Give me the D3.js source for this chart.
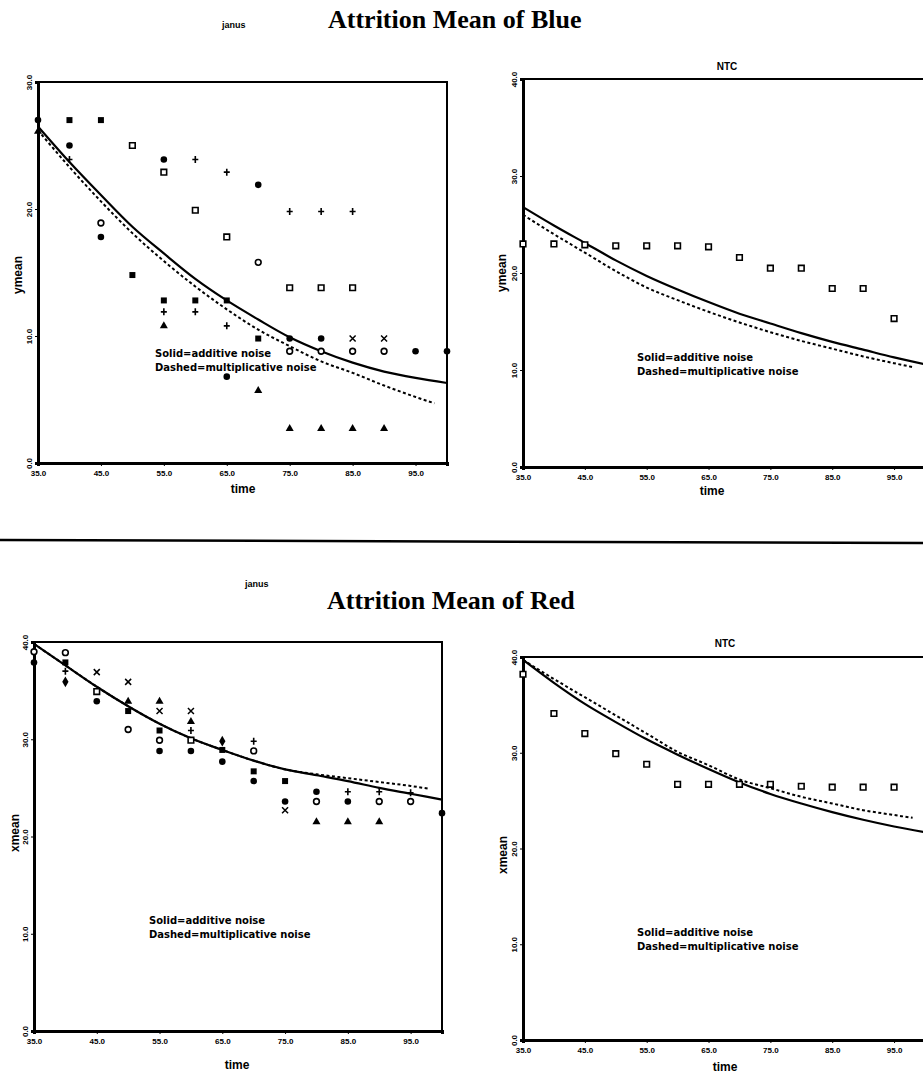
<!DOCTYPE html>
<html>
<head>
<meta charset="utf-8">
<script src="https://cdn.jsdelivr.net/npm/d3@7"></script>
<style>
    body { margin: 0; background: #fff; }
    svg { display: block; }
    .tick text { font-family: "Liberation Sans", sans-serif; font-weight: bold; font-size: 8px; }
    .axisTitle { font-family: "Liberation Sans", sans-serif; font-weight: bold; font-size: 12px; }
    .legend { font-family: "DejaVu Sans", sans-serif; font-weight: bold; font-size: 10px; }
    .ntc { font-family: "Liberation Sans", sans-serif; font-weight: bold; font-size: 10px; }
    .janus { font-family: "Liberation Sans", sans-serif; font-weight: bold; font-size: 9px; }
    .bigTitle { font-family: "Liberation Serif", serif; font-weight: bold; font-size: 26px; }
</style>
</head>
<body>
<script>
(function(){

    //time steps of the simulation output (every 5 units)
    var times = [35, 40, 45, 50, 55, 60, 65, 70, 75, 80, 85, 90, 95, 100];
    //dashed fits stop a little before the right edge
    var dashTimes = [35, 40, 45, 50, 55, 60, 65, 70, 75, 80, 85, 90, 95, 98];

    var xTicks = [35, 45, 55, 65, 75, 85, 95];
    var blueYTicks = [0, 10, 20, 30];
    var yTicks40 = [0, 10, 20, 30, 40];

    //janus blue replications, one array per plotting symbol
    var blueDot      = [27.0, 25.0, 17.8, null, 23.9, null, 6.8, 21.9, 9.8, 9.8, null, null, 8.8, 8.8];
    var blueSquare   = [null, 27.0, 27.0, 14.8, 12.8, 12.8, 12.8, 9.8, null, null, null, null, null, null];
    var blueOpenSq   = [null, null, null, 25.0, 22.9, 19.9, 17.8, null, 13.8, 13.8, 13.8, null, null, null];
    var blueCircle   = [null, null, 18.9, null, null, null, null, 15.8, 8.8, 8.8, 8.8, 8.8, null, null];
    var bluePlus     = [null, 23.9, null, null, 11.9, 23.9, 22.9, null, 19.8, 19.8, 19.8, null, null, null];
    var bluePlus2    = [null, null, null, null, null, 11.9, 10.8, null, null, null, null, null, null, null];
    var blueTriangle = [26.1, null, null, null, 10.8, null, null, 5.7, 2.7, 2.7, 2.7, 2.7, null, null];
    var blueX        = [null, null, null, null, null, null, null, null, null, null, 9.8, 9.8, null, null];

    //janus blue fitted curves
    var blueSolid  = [26.5, 23.7, 21.1, 18.6, 16.5, 14.5, 12.8, 11.3, 9.9, 8.8, 7.9, 7.2, 6.7, 6.3];
    var blueDashed = [26.2, 23.3, 20.6, 18.1, 15.9, 13.9, 12.1, 10.5, 9.2, 8.0, 7.1, 6.1, 5.2, 4.7];

    //NTC blue
    var ntcBlue       = [23.0, 23.0, 22.9, 22.8, 22.8, 22.8, 22.7, 21.6, 20.5, 20.5, 18.4, 18.4, 15.3, null];
    var ntcBlueSolid  = [26.8, 24.9, 23.1, 21.3, 19.7, 18.3, 17.0, 15.8, 14.8, 13.8, 12.9, 12.1, 11.3, 10.6];
    var ntcBlueDashed = [26.0, 24.0, 22.1, 20.2, 18.5, 17.2, 16.0, 14.9, 13.9, 13.0, 12.2, 11.4, 10.7, 10.3];

    //janus red replications
    var redDot      = [37.9, null, 33.9, null, 28.8, 28.8, 27.7, 25.7, 23.6, 24.6, 23.6, null, null, 22.4];
    var redDiamond  = [null, 35.9, null, null, null, null, 29.8, null, null, null, null, null, null, null];
    var redSquare   = [null, 37.9, null, 32.9, 30.9, null, 28.9, 26.7, 25.7, null, null, null, null, null];
    var redCircle   = [39.0, 38.9, null, 31.0, 29.9, null, null, 28.8, null, 23.6, null, 23.6, 23.6, null];
    var redOpenSq   = [null, null, 34.9, null, null, 29.9, null, null, null, null, null, null, null, null];
    var redPlus     = [null, 37.0, null, null, null, 30.9, null, 29.8, null, null, 24.6, 24.6, 24.5, null];
    var redX        = [null, null, 36.9, 35.9, 32.9, 32.9, null, null, 22.7, null, null, null, null, null];
    var redTriangle = [null, null, null, 33.9, 33.9, 31.8, null, null, null, 21.5, 21.5, 21.5, null, null];

    //janus red fitted curves
    var redSolid  = [39.8, 37.6, 35.4, 33.4, 31.6, 30.1, 28.9, 27.8, 26.9, 26.3, 25.7, 25.0, 24.4, 23.8];
    var redDashed = [39.8, 37.6, 35.4, 33.4, 31.6, 30.1, 28.9, 27.8, 26.9, 26.4, 26.0, 25.6, 25.2, 24.9];

    //NTC red
    var ntcRed       = [38.2, 34.1, 32.0, 29.9, 28.8, 26.7, 26.7, 26.7, 26.7, 26.5, 26.4, 26.4, 26.4, null];
    var ntcRedSolid  = [39.7, 37.3, 35.1, 33.2, 31.4, 29.8, 28.3, 26.9, 25.7, 24.7, 23.8, 23.0, 22.3, 21.7];
    var ntcRedDashed = [39.7, 37.7, 35.8, 33.9, 32.0, 30.1, 28.7, 27.2, 26.3, 25.4, 24.7, 24.0, 23.5, 23.2];

    var width = 923,
        height = 1076;

    var svg = d3.select("body")
        .append("svg")
        .attr("width", width)
        .attr("height", height);

    //page titles
    addTitle(svg, 222, 28, 328, 28, "Attrition Mean of Blue");
    addTitle(svg, 245, 587, 327, 609, "Attrition Mean of Red");

    //separator between the two pages
    svg.append("line")
        .attr("x1", 0).attr("x2", width)
        .attr("y1", 540).attr("y2", 543)
        .attr("stroke", "#000")
        .attr("stroke-width", 2.5);

    var panels = [
        {left: 38, right: 447, top: 82, bottom: 463, yMax: 30, yTicks: blueYTicks, yLabel: "ymean",
         yLabelPos: [18, 275], timePos: [243, 493], legend: [155, 357], ntc: null,
         solid: blueSolid, dashed: blueDashed,
         points: [[blueDot, "dot"], [blueSquare, "square"], [blueOpenSq, "openSquare"], [blueCircle, "circle"],
                  [bluePlus, "plus"], [bluePlus2, "plus"], [blueTriangle, "triangle"], [blueX, "x"]]},
        {left: 523, right: 925, top: 79, bottom: 467, yMax: 40, yTicks: yTicks40, yLabel: "ymean",
         yLabelPos: [502, 273], timePos: [712, 495], legend: [637, 361], ntc: [727, 70],
         solid: ntcBlueSolid, dashed: ntcBlueDashed,
         points: [[ntcBlue, "openSquare"]]},
        {left: 34, right: 442, top: 642, bottom: 1031, yMax: 40, yTicks: yTicks40, yLabel: "xmean",
         yLabelPos: [15, 833], timePos: [237, 1069], legend: [149, 924], ntc: null,
         solid: redSolid, dashed: redDashed,
         points: [[redDot, "dot"], [redDiamond, "diamond"], [redSquare, "square"], [redCircle, "circle"],
                  [redOpenSq, "openSquare"], [redPlus, "plus"], [redX, "x"], [redTriangle, "triangle"]]},
        {left: 523, right: 925, top: 657, bottom: 1040, yMax: 40, yTicks: yTicks40, yLabel: "xmean",
         yLabelPos: [503, 855], timePos: [725, 1071], legend: [637, 936], ntc: [725, 647],
         solid: ntcRedSolid, dashed: ntcRedDashed,
         points: [[ntcRed, "openSquare"]]}
    ];

    panels.forEach(function(p){
        drawPanel(svg, p);
    });

    function addTitle(svg, jx, jy, tx, ty, text){
        svg.append("text")
            .attr("class", "janus")
            .attr("x", jx)
            .attr("y", jy)
            .text("janus");
        svg.append("text")
            .attr("class", "bigTitle")
            .attr("x", tx)
            .attr("y", ty)
            .text(text);
    };

    function drawPanel(svg, p){
        var x = d3.scaleLinear()
            .domain([35, 100])
            .range([p.left, p.right]);

        var y = d3.scaleLinear()
            .domain([0, p.yMax])
            .range([p.bottom, p.top]);

        var g = svg.append("g");

        //frame
        g.append("rect")
            .attr("x", p.left)
            .attr("y", p.top)
            .attr("width", p.right - p.left)
            .attr("height", p.bottom - p.top)
            .attr("fill", "none")
            .attr("stroke", "#000")
            .attr("stroke-width", 2);

        //x axis
        var xAxis = d3.axisBottom(x)
            .tickValues(xTicks)
            .tickSize(3)
            .tickFormat(d3.format(".1f"));
        var gx = g.append("g")
            .attr("transform", "translate(0," + p.bottom + ")")
            .call(xAxis);
        gx.select(".domain").attr("stroke-width", 3);
        gx.selectAll(".tick text").attr("dy", "0.85em");

        //y axis, labels turned sideways
        var yAxis = d3.axisLeft(y)
            .tickValues(p.yTicks)
            .tickSize(3)
            .tickFormat(d3.format(".1f"));
        var gy = g.append("g")
            .attr("transform", "translate(" + p.left + ",0)")
            .call(yAxis);
        gy.select(".domain").attr("stroke-width", 3);
        gy.selectAll(".tick text")
            .attr("x", null)
            .attr("dy", null)
            .attr("text-anchor", "middle")
            .attr("transform", "translate(-6,0) rotate(-90)");

        //axis titles
        g.append("text")
            .attr("class", "axisTitle")
            .attr("text-anchor", "middle")
            .attr("x", p.timePos[0])
            .attr("y", p.timePos[1])
            .text("time");

        g.append("text")
            .attr("class", "axisTitle")
            .attr("text-anchor", "middle")
            .attr("transform", "translate(" + p.yLabelPos[0] + "," + p.yLabelPos[1] + ") rotate(-90)")
            .attr("dy", "0.35em")
            .text(p.yLabel);

        if (p.ntc){
            g.append("text")
                .attr("class", "ntc")
                .attr("text-anchor", "middle")
                .attr("x", p.ntc[0])
                .attr("y", p.ntc[1])
                .text("NTC");
        };

        //fitted curves
        var solidLine = d3.line()
            .x(function(d, i){ return x(times[i]); })
            .y(function(d){ return y(d); })
            .curve(d3.curveMonotoneX);

        var dashedLine = d3.line()
            .x(function(d, i){ return x(dashTimes[i]); })
            .y(function(d){ return y(d); })
            .curve(d3.curveMonotoneX);

        g.append("path")
            .datum(p.dashed)
            .attr("d", dashedLine)
            .attr("fill", "none")
            .attr("stroke", "#000")
            .attr("stroke-width", 2)
            .attr("stroke-dasharray", "3,2.5");

        g.append("path")
            .datum(p.solid)
            .attr("d", solidLine)
            .attr("fill", "none")
            .attr("stroke", "#000")
            .attr("stroke-width", 2.2);

        //observed means
        p.points.forEach(function(s){
            var pts = [];
            s[0].forEach(function(v, i){
                if (v !== null) pts.push({t: times[i], v: v});
            });
            g.selectAll(null)
                .data(pts)
                .enter()
                .append("path")
                .attr("transform", function(d){
                    return "translate(" + x(d.t) + "," + y(d.v) + ")";
                })
                .each(function(){
                    styleMarker(d3.select(this), s[1]);
                });
        });

        //legend text
        g.append("text")
            .attr("class", "legend")
            .attr("x", p.legend[0])
            .attr("y", p.legend[1])
            .text("Solid=additive noise");
        g.append("text")
            .attr("class", "legend")
            .attr("x", p.legend[0])
            .attr("y", p.legend[1] + 14)
            .text("Dashed=multiplicative noise");
    };

    //draw one plotting symbol
    function styleMarker(sel, type){
        if (type == "dot"){
            sel.attr("d", d3.symbol().type(d3.symbolCircle).size(34)()).attr("fill", "#000");
        } else if (type == "square"){
            sel.attr("d", d3.symbol().type(d3.symbolSquare).size(36)()).attr("fill", "#000");
        } else if (type == "diamond"){
            sel.attr("d", d3.symbol().type(d3.symbolDiamond).size(34)()).attr("fill", "#000");
        } else if (type == "triangle"){
            sel.attr("d", d3.symbol().type(d3.symbolTriangle).size(28)()).attr("fill", "#000");
        } else if (type == "openSquare"){
            sel.attr("d", "M-2.8,-2.8H2.8V2.8H-2.8Z")
                .attr("fill", "#fff").attr("stroke", "#000").attr("stroke-width", 1.6);
        } else if (type == "circle"){
            sel.attr("d", d3.symbol().type(d3.symbolCircle).size(26)())
                .attr("fill", "#fff").attr("stroke", "#000").attr("stroke-width", 1.6);
        } else if (type == "plus"){
            sel.attr("d", "M-3,0H3M0,-3.5V3.5")
                .attr("fill", "none").attr("stroke", "#000").attr("stroke-width", 1.6);
        } else {
            sel.attr("d", "M-3,-3L3,3M-3,3L3,-3")
                .attr("fill", "none").attr("stroke", "#000").attr("stroke-width", 1.5);
        };
    };

})();
</script>
</body>
</html>
